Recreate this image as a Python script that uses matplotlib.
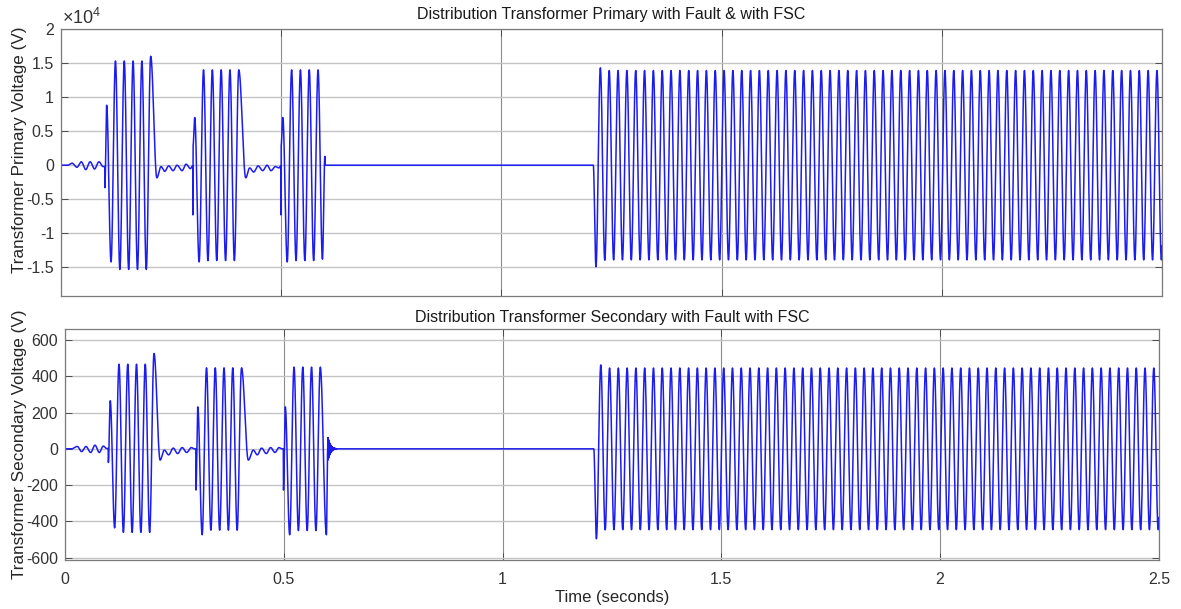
import numpy as np
import matplotlib.pyplot as plt
from matplotlib.ticker import FuncFormatter

plt.rcParams['font.family'] = ['Liberation Sans', 'DejaVu Sans']
plt.rcParams['mathtext.fontset'] = 'custom'
plt.rcParams['mathtext.rm'] = 'Liberation Sans'
plt.rcParams['axes.unicode_minus'] = False

HALF = 0.01          # half period of the 50 Hz supply
STEADY_HALF = 0.01003
T_END = 2.5

# ---- primary voltage, turning points in units of 1e4 V ----
p_rip1_t = [0.0, 0.015, 0.025, 0.036, 0.046, 0.056, 0.066, 0.076, 0.086, 0.0955, 0.0993]
p_rip1_v = [0.0, 0.0, 0.03, -0.03, 0.05, -0.065, 0.05, -0.055, 0.05, -0.02, -0.02]
p_spike1 = [(0.0995, -0.33)]
p_burst1 = [0.88, -1.42, 1.53, -1.53, 1.53, -1.53, 1.53, -1.53, 1.53, -1.53, 1.60]

p_rip2_t = [0.2175, 0.227, 0.2353, 0.2444, 0.2543, 0.2634, 0.2748, 0.2839, 0.2936, 0.2985, 0.2993]
p_rip2_v = [-0.185, -0.02, -0.09, -0.01, -0.08, 0.0, -0.08, 0.015, -0.05, -0.01, -0.01]
p_spike2 = [(0.2995, -0.73), (0.2997, 0.29)]
p_burst2 = [0.70, -1.42, 1.40, -1.40, 1.40, -1.40, 1.40, -1.40, 1.40, -1.40, 1.40]

p_rip3_t = [0.4193, 0.4283, 0.4374, 0.4473, 0.4578, 0.4677, 0.4768, 0.4866, 0.4950, 0.4985, 0.4993]
p_rip3_v = [-0.185, -0.04, -0.10, -0.01, -0.08, 0.0, -0.08, -0.02, -0.04, -0.01, -0.01]
p_spike3 = [(0.4995, -0.73), (0.4997, 0.29)]
p_burst3 = [0.70, -1.42, 1.40, -1.40, 1.40, -1.40, 1.40, -1.40, 1.40, -1.38]
p_trip = [(0.5990, 0.13), (0.5993, 0.0), (1.2085, 0.0)]

p_steady_first = [-1.49, 1.43, -1.395]
p_steady_amp = 1.39

# ---- secondary voltage, turning points in V ----
s_rip1_t = [0.0, 0.015, 0.0282, 0.0381, 0.048, 0.0587, 0.0686, 0.0784, 0.0876, 0.0952, 0.0988]
s_rip1_v = [0.0, 0.0, 13, -15, 13, -20, 20, -20, 15, 2, 2]
s_spike1 = [(0.0992, -75)]
s_burst1 = [265, -435, 466, -460, 466, -460, 466, -460, 466, -460, 525]

s_rip2_t = [0.2175, 0.227, 0.237, 0.2475, 0.2575, 0.268, 0.278, 0.2887, 0.2955, 0.2990]
s_rip2_v = [-62, -7, -33, 4, -26, 7, -20, 7, 0, 0]
s_spike2 = [(0.2994, -227)]
s_burst2 = [231, -473, 446, -448, 446, -448, 446, -448, 446, -448, 446]

s_rip3_t = [0.419, 0.4304, 0.4395, 0.4494, 0.46, 0.47, 0.4799, 0.489, 0.4955, 0.4990]
s_rip3_v = [-62, -7, -33, 4, -26, 7, -20, 7, 0, 0]
s_spike3 = [(0.4994, -227)]
s_burst3 = [231, -473, 450, -450, 450, -450, 450, -450, 450]
s_trip = [(0.5975, -473), (0.6005, 0.0)]
# ringing after the breaker opens, envelope one value per ms
s_ring_env = [60, 50, 42, 35, 29, 24, 20, 16, 13, 10, 8, 6, 5, 4, 3, 2.2, 1.6, 1.1, 0.7, 0.4, 0.2, 0]
s_rest = [(1.2085, 0.0)]

s_steady_first = [-495, 462, -446]
s_steady_amp = 445

BURST_T0 = [0.1035, 0.3035, 0.5035]
STEADY_T0 = 1.2145


def train(t0, values, half=HALF):
    return [(t0 + half * k, v) for k, v in enumerate(values)]


def steady(t0, first, amp):
    n = int((T_END - t0) / STEADY_HALF) + 3
    vals = list(first)
    sign = -np.sign(first[-1])
    while len(vals) < n:
        vals.append(sign * amp)
        sign = -sign
    return train(t0, vals, STEADY_HALF)


def ringing(t0, env, half=0.0002):
    pts = []
    per_ms = int(round(0.001 / half))
    for i, a in enumerate(env):
        for j in range(per_ms):
            k = i * per_ms + j
            pts.append((t0 + half * (k + 1), a * (1 if k % 2 == 0 else -1)))
    return pts


def render(knots):
    knots = sorted(knots)
    ts, vs = [], []
    for (t0, v0), (t1, v1) in zip(knots[:-1], knots[1:]):
        m = max(2, int((t1 - t0) / 0.0002) + 2)
        s = np.linspace(0, 1, m)[:-1]
        ts.append(t0 + s * (t1 - t0))
        vs.append(v0 + (v1 - v0) * (1 - np.cos(np.pi * s)) / 2)
    ts.append([knots[-1][0]])
    vs.append([knots[-1][1]])
    return np.concatenate(ts), np.concatenate(vs)


prim = (list(zip(p_rip1_t, p_rip1_v)) + p_spike1 + train(BURST_T0[0], p_burst1)
        + list(zip(p_rip2_t, p_rip2_v)) + p_spike2 + train(BURST_T0[1], p_burst2)
        + list(zip(p_rip3_t, p_rip3_v)) + p_spike3 + train(BURST_T0[2], p_burst3)
        + p_trip + steady(STEADY_T0, p_steady_first, p_steady_amp))
prim = [(t, v * 1e4) for t, v in prim]

sec = (list(zip(s_rip1_t, s_rip1_v)) + s_spike1 + train(BURST_T0[0], s_burst1)
       + list(zip(s_rip2_t, s_rip2_v)) + s_spike2 + train(BURST_T0[1], s_burst2)
       + list(zip(s_rip3_t, s_rip3_v)) + s_spike3 + train(BURST_T0[2], s_burst3)
       + s_trip + ringing(0.6005, s_ring_env) + s_rest
       + steady(STEADY_T0, s_steady_first, s_steady_amp))

t_p, v_p = render(prim)
t_s, v_s = render(sec)

fig = plt.figure(figsize=(11.81, 6.09), dpi=100)
ax1 = fig.add_axes([0.0517, 0.514, 0.9323, 0.4384])
ax2 = fig.add_axes([0.0550, 0.0805, 0.9263, 0.3793])

line_col = '#1c1cf0'
ax1.plot(t_p, v_p, color=line_col, lw=1.1)
ax2.plot(t_s, v_s, color=line_col, lw=1.1)

for ax in (ax1, ax2):
    ax.set_xlim(0, T_END)
    ax.set_xticks([0, 0.5, 1, 1.5, 2, 2.5])
    ax.set_axisbelow(True)
    ax.xaxis.grid(True, color='#8c8c8c', lw=0.8)
    ax.yaxis.grid(True, color='#c4c4c4', lw=1.0)
    ax.tick_params(direction='in', top=True, right=True, length=5, width=0.7,
                   color='#4d4d4d', labelcolor='#333333', labelsize=11.5)
    ax.tick_params(axis='y', pad=5)
    ax.tick_params(axis='x', pad=9)
    for sp in ax.spines.values():
        sp.set_color('#7a7a7a')
        sp.set_linewidth(0.9)

ax1.set_ylim(-1.92e4, 2e4)
ax1.set_yticks(np.arange(-1.5e4, 2.01e4, 0.5e4))
ax1.yaxis.set_major_formatter(FuncFormatter(lambda v, p: f'{v / 1e4:g}'))
ax1.tick_params(labelbottom=False)
ax1.text(0.001, 1.004, r'$\times10^{4}$', transform=ax1.transAxes, fontsize=13,
         color='#333333', ha='left', va='bottom')
ax1.set_title('Distribution Transformer Primary with Fault & with FSC',
              fontsize=11.5, color='#1a1a1a', pad=7)
ax1.set_ylabel('Transformer Primary Voltage (V)', fontsize=12.3, color='#262626')
ax1.yaxis.set_label_coords(-0.031, 0.547)

ax2.set_ylim(-612, 660)
ax2.set_yticks(np.arange(-600, 601, 200))
ax2.set_title('Distribution Transformer Secondary with Fault with FSC',
              fontsize=11.5, color='#1a1a1a', pad=5)
ax2.set_ylabel('Transformer Secondary Voltage (V)', fontsize=12.3, color='#262626')
ax2.yaxis.set_label_coords(-0.035, 0.5)
ax2.set_xlabel('Time (seconds)', fontsize=12, color='#262626', labelpad=2)
ax2.xaxis.set_major_formatter(FuncFormatter(lambda v, p: f'{v:g}'))

fig.savefig('out.png', dpi=100)
